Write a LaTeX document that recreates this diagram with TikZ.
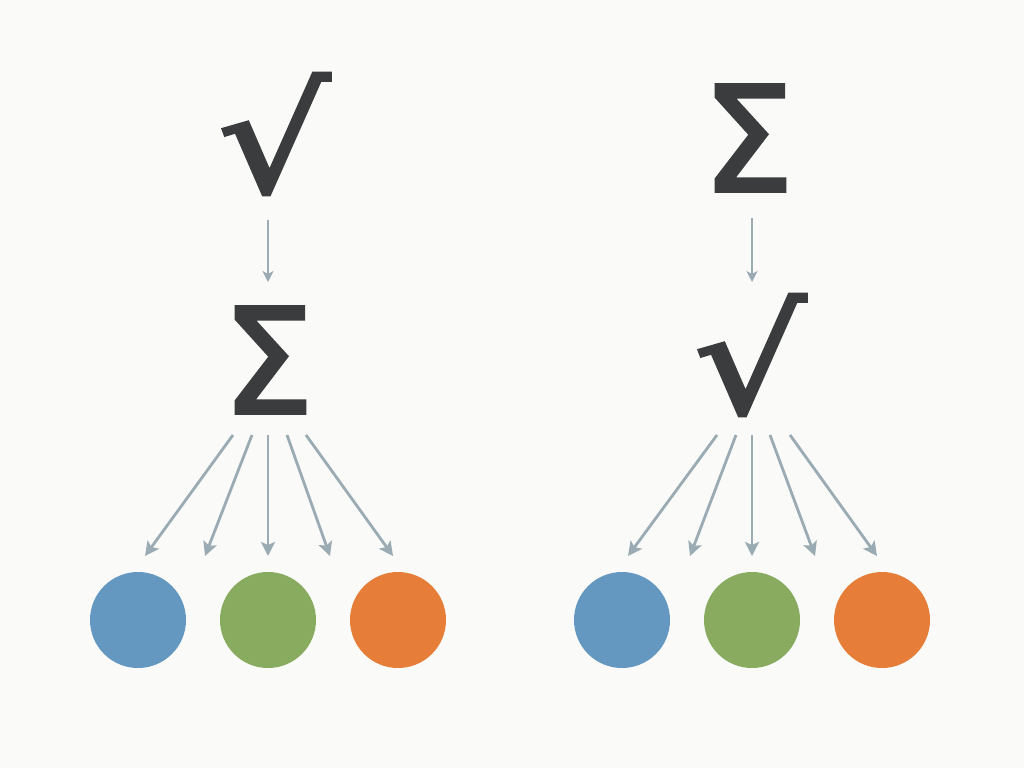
\documentclass[tikz,border=0pt]{standalone}
\usepackage{fontspec}
\newfontfamily\symfont[FakeBold=2.2]{DejaVu Sans}
\usetikzlibrary{arrows.meta}
\definecolor{bg}{HTML}{FAFAF8}
\definecolor{glyph}{HTML}{3B3C3E}
\definecolor{arr}{HTML}{9AABB3}
\definecolor{cblue}{HTML}{6598C0}
\definecolor{cgreen}{HTML}{88AB5F}
\definecolor{corange}{HTML}{E67E3A}
\tikzset{
  sym/.style={inner sep=0pt, text=glyph, font=\symfont\fontsize{146}{146}\selectfont},
  rootsym/.style={sym, xscale=1.2},
  ball/.style={circle, minimum size=96pt, inner sep=0pt},
  fan/.style={draw=arr, line width=2.8pt, -{Stealth[length=14pt,width=14pt,inset=3pt]}},
  vert/.style={draw=arr, line width=1.8pt, -{Stealth[length=11pt,width=11pt,inset=3pt]}},
}
\begin{document}
\begin{tikzpicture}[x=1pt,y=-1pt]
\fill[bg] (0,0) rectangle (1024,768);
\useasboundingbox (0,0) rectangle (1024,768);
% left column
\node[rootsym] (lroot) at (274,134) {√};
\node[sym] (lsig) at (268,360) {Σ};
\coordinate (la) at (268,220);
\coordinate (lb) at (268,282);
\draw[vert] (la) -- (lb);
\node[ball, fill=cblue] (lc1) at (138,620) {};
\node[ball, fill=cgreen] (lc2) at (268,620) {};
\node[ball, fill=corange] (lc3) at (398,620) {};
\foreach \sx/\ex [count=\i] in {233/145, 252/205, 268/268, 287/330, 306/393}{
  \coordinate (ls\i) at (\sx,435);
  \coordinate (le\i) at (\ex,556);
  \draw[fan] (ls\i) -- (le\i);
}
% right column
\node[sym] (rsig) at (748,138) {Σ};
\node[rootsym] (rroot) at (750,355) {√};
\coordinate (ra) at (752,218);
\coordinate (rb) at (752,282);
\draw[vert] (ra) -- (rb);
\node[ball, fill=cblue] (rc1) at (622,620) {};
\node[ball, fill=cgreen] (rc2) at (752,620) {};
\node[ball, fill=corange] (rc3) at (882,620) {};
\foreach \sx/\ex [count=\i] in {717/628, 736/690, 752/752, 770/815, 790/877}{
  \coordinate (rs\i) at (\sx,435);
  \coordinate (re\i) at (\ex,556);
  \draw[fan] (rs\i) -- (re\i);
}
\end{tikzpicture}
\end{document}
